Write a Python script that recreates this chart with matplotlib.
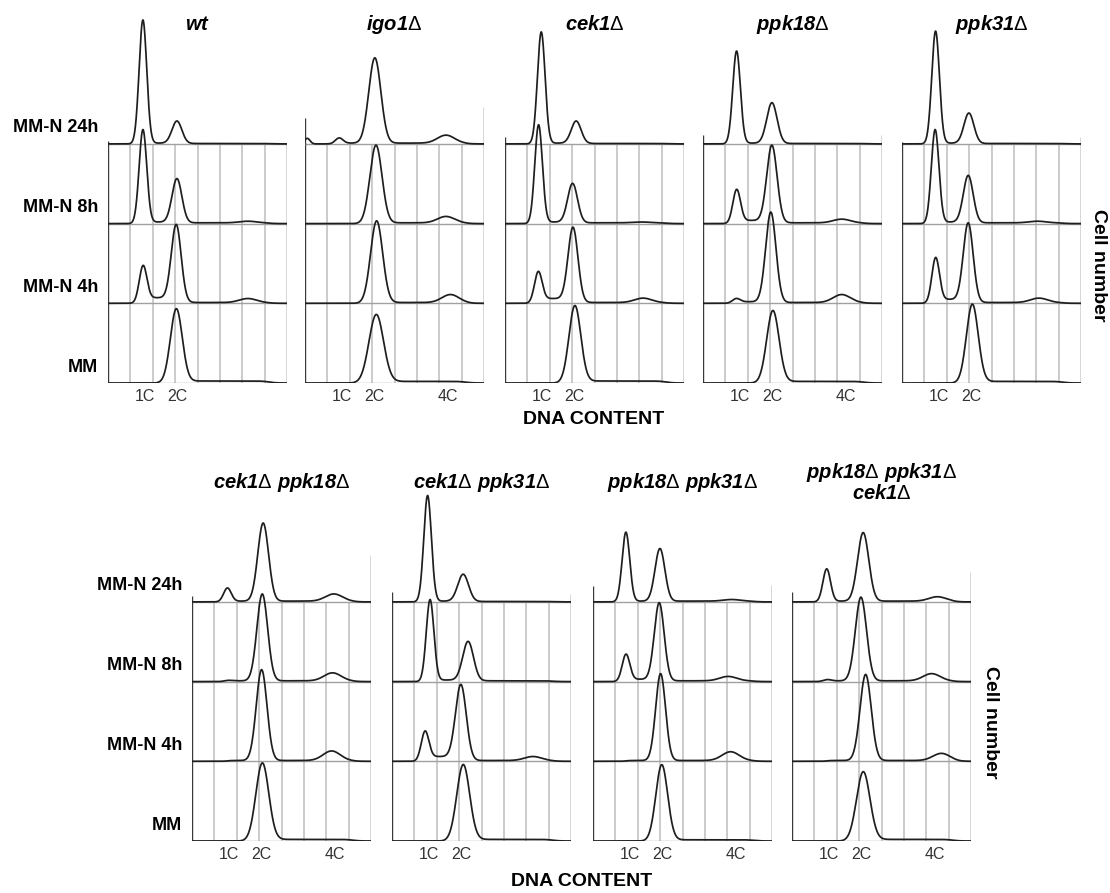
import numpy as np
import matplotlib.pyplot as plt

plt.rcParams['font.family'] = ['Liberation Sans', 'DejaVu Sans']
plt.rcParams['mathtext.fontset'] = 'custom'
plt.rcParams['mathtext.rm'] = 'Liberation Sans:italic:bold'
plt.rcParams['mathtext.it'] = 'Liberation Sans:italic:bold'
plt.rcParams['mathtext.sf'] = 'Liberation Sans'

# strains, top row first (5) then bottom row (4)
strains = ['wt', 'igo1Δ', 'cek1Δ', 'ppk18Δ', 'ppk31Δ',
           'cek1Δ ppk18Δ', 'cek1Δ ppk31Δ', 'ppk18Δ ppk31Δ', 'ppk18Δ ppk31Δ\ncek1Δ']
conditions = ['MM-N 24h', 'MM-N 8h', 'MM-N 4h', 'MM']
show_4c_label = [False, True, False, True, False, True, False, True, True]

# peak heights in units of one stacked lane (order: 24h, 8h, 4h, MM)
height_1c = [[1.55, 1.17, 0.44, 0.00],
             [0.07, 0.00, 0.00, 0.00],
             [1.40, 1.23, 0.37, 0.00],
             [1.16, 0.41, 0.05, 0.00],
             [1.41, 1.17, 0.55, 0.00],
             [0.17, 0.01, 0.00, 0.00],
             [1.33, 1.02, 0.35, 0.00],
             [0.87, 0.33, 0.00, 0.00],
             [0.41, 0.02, 0.00, 0.00]]
height_2c = [[0.28, 0.55, 0.95, 0.92],
             [1.07, 0.98, 1.03, 0.85],
             [0.28, 0.49, 0.92, 0.96],
             [0.51, 0.96, 1.13, 0.90],
             [0.38, 0.59, 0.98, 0.98],
             [0.98, 1.09, 1.14, 0.97],
             [0.34, 0.49, 0.93, 0.95],
             [0.66, 0.97, 1.09, 0.95],
             [0.86, 1.05, 1.08, 0.86]]
height_4c = [[0.00, 0.02, 0.05, 0.00],
             [0.10, 0.08, 0.10, 0.00],
             [0.00, 0.01, 0.055, 0.00],
             [0.00, 0.046, 0.10, 0.00],
             [0.00, 0.02, 0.055, 0.00],
             [0.09, 0.10, 0.12, 0.00],
             [0.00, 0.00, 0.05, 0.00],
             [0.02, 0.055, 0.11, 0.00],
             [0.055, 0.09, 0.09, 0.00]]
# S-phase level between 1C and 2C, and G2 tail level after 2C
s_phase = [[0.01, 0.02, 0.07, 0.00],
           [0.01, 0.00, 0.00, 0.00],
           [0.01, 0.02, 0.06, 0.00],
           [0.01, 0.04, 0.02, 0.00],
           [0.01, 0.02, 0.05, 0.00],
           [0.01, 0.01, 0.01, 0.00],
           [0.01, 0.02, 0.06, 0.00],
           [0.01, 0.03, 0.01, 0.00],
           [0.01, 0.01, 0.01, 0.00]]
g2_tail = [[0.005, 0.01, 0.01, 0.025],
           [0.01, 0.01, 0.01, 0.02],
           [0.005, 0.01, 0.01, 0.025],
           [0.005, 0.01, 0.01, 0.02],
           [0.005, 0.01, 0.01, 0.02],
           [0.01, 0.01, 0.01, 0.02],
           [0.005, 0.01, 0.01, 0.02],
           [0.01, 0.01, 0.01, 0.015],
           [0.01, 0.01, 0.01, 0.02]]

# peak positions on the DNA axis (8 grid divisions)
pos_1c = [[1.56, 1.56, 1.56, 1.56],
          [1.52, 1.52, 1.52, 1.52],
          [1.62, 1.50, 1.48, 1.50],
          [1.50, 1.50, 1.47, 1.50],
          [1.50, 1.48, 1.50, 1.50],
          [1.58, 1.58, 1.58, 1.58],
          [1.59, 1.70, 1.47, 1.50],
          [1.47, 1.47, 1.47, 1.47],
          [1.55, 1.55, 1.55, 1.55]]
pos_2c = [[3.08, 3.08, 3.05, 3.05],
          [3.12, 3.17, 3.20, 3.18],
          [3.18, 3.02, 3.04, 3.12],
          [3.08, 3.08, 3.03, 3.12],
          [2.99, 2.96, 2.96, 3.14],
          [3.18, 3.14, 3.11, 3.14],
          [3.18, 3.40, 3.08, 3.18],
          [2.99, 2.96, 3.02, 3.07],
          [3.18, 3.08, 3.29, 3.18]]
pos_4c = [[6.25, 6.25, 6.25, 6.25],
          [6.30, 6.30, 6.50, 6.30],
          [6.17, 6.10, 6.17, 6.17],
          [6.20, 6.20, 6.20, 6.20],
          [6.12, 6.05, 6.12, 6.12],
          [6.34, 6.28, 6.24, 6.24],
          [6.30, 6.30, 6.30, 6.30],
          [6.20, 6.04, 6.15, 6.15],
          [6.50, 6.24, 6.68, 6.68]]
width_2c = [0.22, 0.27, 0.22, 0.23, 0.22, 0.24, 0.24, 0.22, 0.25]

# short axis stubs above the top lane (left, right)
stubs = [(0.04, 0.0), (0.33, 0.46), (0.09, 0.03), (0.11, 0.11), (0.03, 0.09),
         (0.08, 0.59), (0.13, 0.10), (0.20, 0.21), (0.13, 0.37)]

W, H = 1110, 893
PW, BAND, YMAX = 179, 79.7, 4.8
top_lefts = [108, 305, 505, 703, 902]
bot_lefts = [192, 392, 593, 792]
TOP_BASE, BOT_BASE = 383, 841

fig = plt.figure(figsize=(W / 100, H / 100), dpi=100)
x = np.linspace(0, 8, 801)


def gauss(mu, sig):
    return np.exp(-0.5 * ((x - mu) / sig) ** 2)


def ramp(a, b):
    return 1 / (1 + np.exp(-(x - a) / 0.08)) - 1 / (1 + np.exp(-(x - b) / 0.15))


def math_title(name):
    # gene names bold italic, the delta sign upright regular
    lines = []
    for line in name.split('\n'):
        parts = []
        for w in line.split(' '):
            if w.endswith('Δ'):
                parts.append(r'\mathrm{%s}\mathsf{Δ}' % w[:-1])
            else:
                parts.append(r'\mathrm{%s}' % w)
        lines.append('$' + r'\ '.join(parts) + '$')
    return '\n'.join(lines)


def draw_panel(k, left, base, first):
    ax = fig.add_axes([left / W, (H - base) / H, PW / W, YMAX * BAND / H])
    ax.set_xlim(0, 8)
    ax.set_ylim(0, YMAX)
    ax.axis('off')

    ax.vlines(range(1, 8), 0, 3, color='#bdbdbd', lw=1.1, zorder=1)
    ax.hlines([0, 1, 2, 3], 0, 8, color='#a0a0a0', lw=1.0, zorder=1)
    ax.vlines([0, 8], 0, 3, color='#3a3a3a', lw=1.0, zorder=2)
    ax.vlines(0, 3, 3 + stubs[k][0], color='#3a3a3a', lw=1.0, zorder=2)
    ax.vlines(8, 3, 3 + stubs[k][1], color='#3a3a3a', lw=1.0, zorder=2)

    for i in range(4):
        off = 3 - i
        w2 = width_2c[k] * (1.2 if i == 3 else 1.0)
        y = (height_1c[k][i] * gauss(pos_1c[k][i], 0.17)
             + height_2c[k][i] * gauss(pos_2c[k][i], w2)
             + height_4c[k][i] * gauss(pos_4c[k][i], 0.38)
             + s_phase[k][i] * ramp(pos_1c[k][i], pos_2c[k][i])
             + g2_tail[k][i] * ramp(pos_2c[k][i], 7.2))
        if k == 1 and i == 0:
            y = y + 0.07 * gauss(0.1, 0.12)
        ax.plot(x, off + y, color='#1e1e1e', lw=1.25, zorder=3)
        if first:
            ax.text(-0.45, off + 0.2, conditions[i], ha='right', va='center',
                    fontsize=13, fontweight='bold')

    ax.text(4, 3 + 1.5, math_title(strains[k]), ha='center', va='center',
            fontsize=14.5, linespacing=1.0)
    ax.text(1.65, -0.17, '1C', ha='center', va='center', fontsize=11.5, color='#333333')
    ax.text(3.1, -0.17, '2C', ha='center', va='center', fontsize=11.5, color='#333333')
    if show_4c_label[k]:
        ax.text(6.4, -0.17, '4C', ha='center', va='center', fontsize=11.5, color='#333333')


for j, left in enumerate(top_lefts):
    draw_panel(j, left, TOP_BASE, j == 0)
for j, left in enumerate(bot_lefts):
    draw_panel(5 + j, left, BOT_BASE, j == 0)

fig.text(594 / W, 1 - 420 / H, 'DNA CONTENT', ha='center', va='center',
         fontsize=14, fontweight='bold')
fig.text(582 / W, 1 - 882 / H, 'DNA CONTENT', ha='center', va='center',
         fontsize=14, fontweight='bold')
fig.text(1098 / W, 1 - 265 / H, 'Cell number', ha='center', va='center',
         fontsize=14, fontweight='bold', rotation=270)
fig.text(990 / W, 1 - 722 / H, 'Cell number', ha='center', va='center',
         fontsize=14, fontweight='bold', rotation=270)

fig.savefig('out.png', dpi=100, facecolor='white')
